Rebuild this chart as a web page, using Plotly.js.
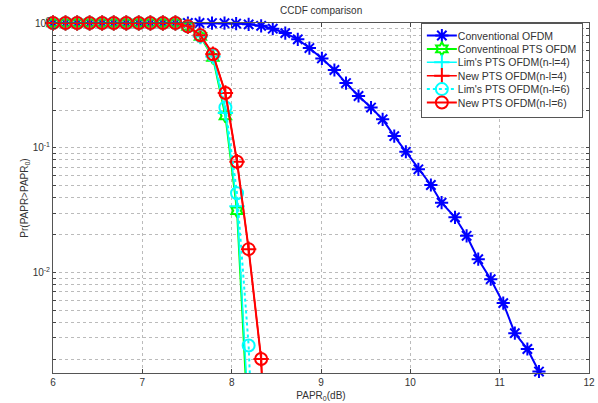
<!DOCTYPE html>
<html>
<head>
<meta charset="utf-8">
<script src="https://cdn.plot.ly/plotly-3.0.1.min.js"></script>
<style>html,body{margin:0;padding:0;background:#fff;}#chart{width:598px;height:403px;}</style>
</head>
<body>
<div id="chart"></div>
<script>
// PAPR0 (dB) sample positions
var xConv = [6.00,6.14,6.27,6.41,6.55,6.68,6.82,6.96,7.09,7.23,7.37,7.51,7.64,7.78,7.92,8.05,8.19,8.33,8.46,8.60,8.74,8.87,9.01,9.15,9.28,9.42,9.56,9.69,9.82,9.95,10.09,10.23,10.35,10.50,10.63,10.76,10.90,11.04,11.17,11.31,11.44];
var yConv = [1,1,1,1,1,1,1,1,1,1,1,1,1,0.999,0.997,0.99,0.975,0.95,0.9,0.83,0.74,0.63,0.52,0.42,0.33,0.26,0.21,0.169,0.124,0.0929,0.0672,0.0503,0.0363,0.0277,0.0197,0.0128,0.00885,0.00569,0.00327,0.00244,0.00161];

var xPts = [6.00,6.14,6.27,6.41,6.55,6.68,6.82,6.96,7.09,7.23,7.37,7.51,7.65,7.79,7.93,8.06,8.19,8.33];
var yConvPts = [1,1,1,1,1,1,1,1,1,1,1,0.94,0.78,0.53,0.18,0.0313,0.0005];
var yLim4    = [1,1,1,1,1,1,1,1,1,1,1,0.94,0.78,0.54,0.19,0.034,0.0007];
var yNew4    = [1,1,1,1,1,1,1,1,1,1,1,0.94,0.797,0.562,0.275,0.0773,0.0154,0.00203,0.00001];
var yLim6    = [1,1,1,1,1,1,1,1,1,1,1,0.94,0.79,0.55,0.21,0.0432,0.0026,0.00001];
var yNew6    = [1,1,1,1,1,1,1,1,1,1,1,0.94,0.797,0.562,0.275,0.0773,0.0154,0.00203,0.00001];
var xPts2 = xPts.concat([8.46]);

var names = ['Conventional OFDM','Conventinoal PTS OFDM',"Lim's PTS OFDM(n-l=4)",'New PTS OFDM(n-l=4)',"Lim's PTS OFDM(n-l=6)",'New PTS OFDM(n-l=6)'];
// y grid/tick positions (decades labelled, 2..9 unlabeled like a log grid)
var yTickVals = [0.002,0.003,0.004,0.005,0.006,0.007,0.008,0.009,0.01,0.02,0.03,0.04,0.05,0.06,0.07,0.08,0.09,0.1,0.2,0.3,0.4,0.5,0.6,0.7,0.8,0.9,1];
var yTickText = ['','','','','','','','','10<sup>-2</sup>','','','','','','','','','10<sup>-1</sup>','','','','','','','','','10<sup>0</sup>'];
var xTickVals = [6,7,8,9,10,11,12];

var traces = [
  {x:xConv, y:yConv, name:names[0], mode:'lines+markers', cliponaxis:false,
   line:{color:'#0000ff', width:2}, marker:{symbol:'asterisk-open', size:11, color:'#0000ff', line:{color:'#0000ff', width:2}}},
  {x:xPts, y:yConvPts, name:names[1], mode:'lines+markers', cliponaxis:false,
   line:{color:'#00ff00', width:2}, marker:{symbol:'hexagram-open', size:10, color:'#00ff00', line:{color:'#00ff00', width:2}}},
  {x:xPts, y:yLim4, name:names[2], mode:'lines+markers', cliponaxis:false,
   line:{color:'#00ffff', width:1.5}, marker:{symbol:'cross-thin-open', size:11, color:'#00ffff', line:{color:'#00ffff', width:2}}},
  {x:xPts2, y:yNew4, name:names[3], mode:'lines+markers', cliponaxis:false,
   line:{color:'#ff0000', width:1.5}, marker:{symbol:'cross-thin-open', size:11, color:'#ff0000', line:{color:'#ff0000', width:2}}},
  {x:xPts, y:yLim6, name:names[4], mode:'lines+markers', cliponaxis:false,
   line:{color:'#00ffff', width:2, dash:'dot'}, marker:{symbol:'circle-open', size:12, color:'#00ffff', line:{color:'#00ffff', width:2}}},
  {x:xPts2, y:yNew6, name:names[5], mode:'lines+markers', cliponaxis:false,
   line:{color:'#ff0000', width:2}, marker:{symbol:'circle-open', size:12, color:'#ff0000', line:{color:'#ff0000', width:2}}}
];

var layout = {
  width:598, height:403,
  margin:{l:53, r:9, t:23, b:30},
  paper_bgcolor:'#fff', plot_bgcolor:'#fff',
  font:{family:'Liberation Sans, Arial, sans-serif', size:10, color:'#333'},
  showlegend:true,
  title:{text:'CCDF comparison', x:0.537, xanchor:'center', y:0.975, yanchor:'middle', font:{size:10, color:'#333'}},
  xaxis:{range:[6,12], tickvals:xTickVals, ticks:'inside', ticklen:4, tickcolor:'#444',
    showline:true, linecolor:'#555', linewidth:1, mirror:'ticks', zeroline:false,
    showgrid:true, gridcolor:'#bbb', griddash:'dot', gridwidth:1,
    title:{text:'PAPR<sub>0</sub>(dB)', standoff:4, font:{size:10, color:'#333'}}},
  yaxis:{type:'log', range:[-2.805, 0], tickmode:'array', tickvals:yTickVals, ticktext:yTickText, ticks:'inside', ticklen:3, tickcolor:'#444',
    showline:true, linecolor:'#555', linewidth:1, mirror:'ticks', zeroline:false,
    showgrid:true, gridcolor:'#bbb', griddash:'dot', gridwidth:1,
    title:{text:'Pr(PAPR>PAPR<sub>0</sub>)', standoff:2, font:{size:10, color:'#333'}}},
  legend:{x:0.996, xanchor:'right', y:1, yanchor:'top', bgcolor:'#fff', bordercolor:'#555', borderwidth:1,
    font:{size:10.5, color:'#333'}, tracegroupgap:0, itemwidth:30}
};

Plotly.newPlot('chart', traces, layout, {displayModeBar:false, staticPlot:true}).then(function(gd){
  // tighten legend rows to match the compact legend of the reference
  var leg = gd.querySelector('.legend');
  if(!leg) return;
  var items = leg.querySelectorAll('.traces');
  var rowH = 13.4, y0 = null, yl = null;
  items.forEach(function(it, i){
    var m = /translate\(\s*([-\d.e]+)[ ,]+([-\d.e]+)\s*\)/.exec(it.getAttribute('transform')||'');
    if(!m) return;
    var x = parseFloat(m[1]), y = parseFloat(m[2]);
    if(i === 0) y0 = y - 3;
    yl = y;
    it.setAttribute('transform', 'translate(' + x + ',' + (y0 + i*rowH) + ')');
    var tx = it.querySelector('.legendtext');
    if(tx) tx.setAttribute('x', 36);
  });
  var bg = leg.querySelector('rect.bg');
  if(bg && y0 !== null){
    var h = parseFloat(bg.getAttribute('height'));
    var shrink = (yl - (y0+3)) - (items.length-1)*rowH + 3;
    bg.setAttribute('height', h - shrink);
    var w = parseFloat(bg.getAttribute('width'));
    bg.setAttribute('width', w - 4);
  }
});
</script>
</body>
</html>
